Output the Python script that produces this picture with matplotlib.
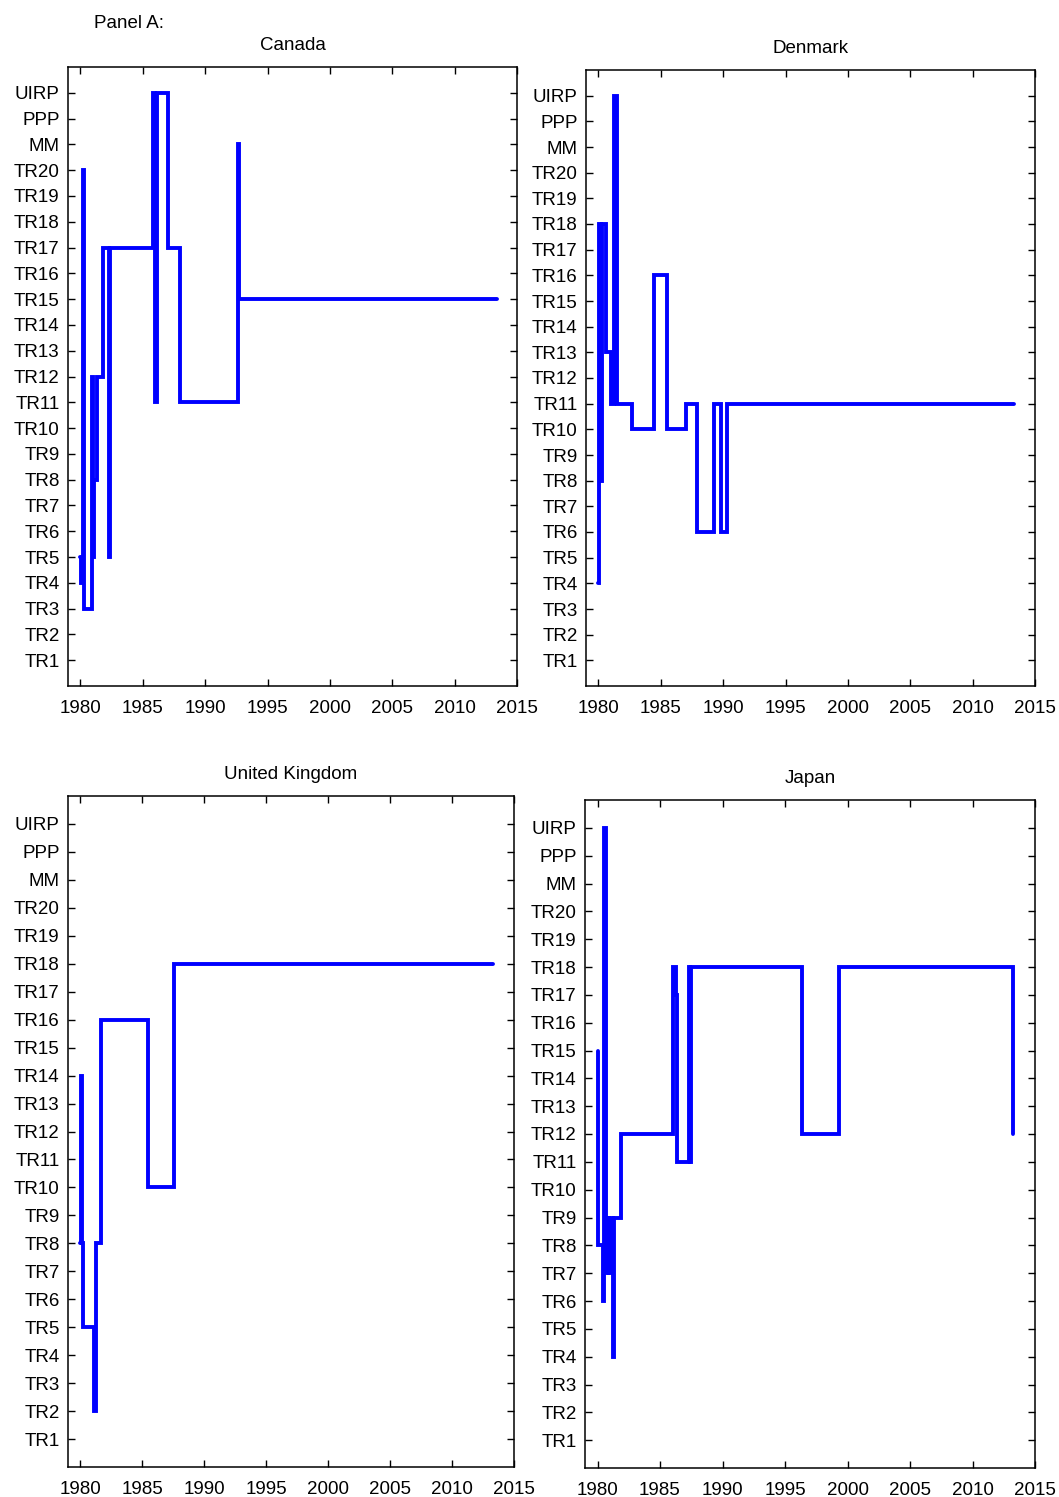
import matplotlib

matplotlib.use("Agg")
import matplotlib.pyplot as plt

plt.rcParams["font.family"] = ["Liberation Sans", "DejaVu Sans"]

regimes = [f"TR{i}" for i in range(1, 21)] + ["MM", "PPP", "UIRP"]
years = [1980, 1985, 1990, 1995, 2000, 2005, 2010, 2015]

# regime switch dates (decimal years) and the regime chosen from that date on
canada_t = [1980.0, 1980.06, 1980.17, 1980.27, 1980.95, 1981.02, 1981.12, 1981.3,
            1981.8, 1982.3, 1982.4, 1985.82, 1986.0, 1986.1, 1987.0, 1988.0,
            1992.6, 1992.75, 2013.4]
canada_r = ["TR5", "TR4", "TR20", "TR3", "TR12", "TR5", "TR8", "TR12",
            "TR17", "TR5", "TR17", "UIRP", "TR11", "UIRP", "TR17", "TR11",
            "MM", "TR15", "TR15"]

denmark_t = [1980.0, 1980.07, 1980.2, 1980.3, 1980.6, 1981.0, 1981.25, 1981.45,
             1982.7, 1984.45, 1985.5, 1987.05, 1987.9, 1989.25, 1989.85, 1990.3,
             2013.3]
denmark_r = ["TR4", "TR18", "TR8", "TR18", "TR13", "TR11", "UIRP", "TR11",
             "TR10", "TR16", "TR10", "TR11", "TR6", "TR11", "TR6", "TR11",
             "TR11"]

uk_t = [1980.0, 1980.05, 1980.12, 1980.2, 1981.1, 1981.25, 1981.7, 1985.45,
        1987.55, 2013.3]
uk_r = ["TR8", "TR14", "TR8", "TR5", "TR2", "TR8", "TR16", "TR10",
        "TR18", "TR18"]

japan_t = [1980.0, 1980.05, 1980.4, 1980.55, 1980.7, 1980.8, 1980.9, 1981.0,
           1981.2, 1981.35, 1981.85, 1986.0, 1986.25, 1986.35, 1987.3, 1987.4,
           1987.5, 1996.35, 1999.35, 2013.2, 2013.25]
japan_r = ["TR15", "TR8", "TR6", "UIRP", "TR7", "TR9", "TR7", "TR9",
           "TR4", "TR9", "TR12", "TR18", "TR17", "TR11", "TR18", "TR11",
           "TR18", "TR12", "TR18", "TR12", "TR12"]

panels = [
    ("Canada", canada_t, canada_r, (68, 67, 517, 686)),
    ("Denmark", denmark_t, denmark_r, (586, 70, 1035, 686)),
    ("United Kingdom", uk_t, uk_r, (68, 796, 514, 1467)),
    ("Japan", japan_t, japan_r, (585, 800, 1035, 1468)),
]

W, H = 1059, 1497
fig = plt.figure(figsize=(W / 100, H / 100), dpi=100)

for name, t, r, (x0, y0, x1, y1) in panels:
    ax = fig.add_axes([x0 / W, 1 - y1 / H, (x1 - x0) / W, (y1 - y0) / H])
    idx = [regimes.index(v) + 1 for v in r]
    ax.step(t, idx, where="post", color="#0000ff", lw=2.8,
            solid_joinstyle="miter", solid_capstyle="round")
    ax.set_xlim(1979, 2015)
    ax.set_ylim(0, 24)
    ax.set_xticks(years)
    ax.set_yticks(range(1, len(regimes) + 1))
    ax.set_yticklabels(regimes)
    ax.tick_params(direction="in", top=True, right=True, labelsize=13.5,
                   length=5, width=1)
    ax.tick_params(axis="x", pad=10)
    ax.tick_params(axis="y", pad=6)
    for s in ax.spines.values():
        s.set_linewidth(1.1)
    ax.set_title(name, fontsize=13.5, pad=12)

fig.text(94 / W, 1 - 24 / H, "Panel A:", fontsize=13.5, ha="left", va="center")

fig.savefig("out.png", dpi=100)
